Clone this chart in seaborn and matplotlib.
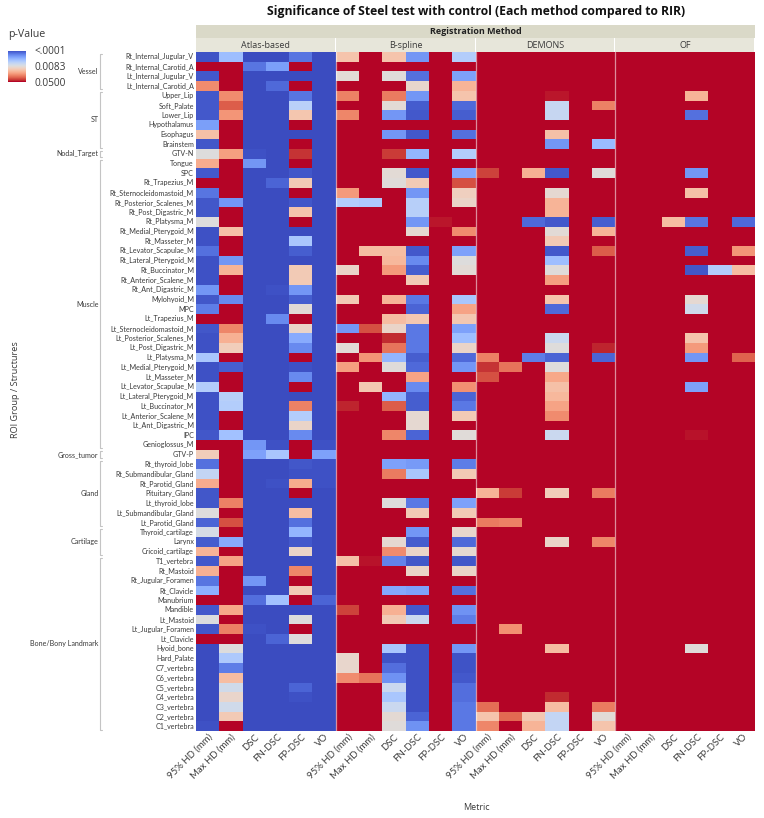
import numpy as np
import pandas as pd
import matplotlib
matplotlib.use("Agg")
import matplotlib.pyplot as plt
from matplotlib.colors import TwoSlopeNorm
from matplotlib.patches import Rectangle
from matplotlib.lines import Line2D
import seaborn as sns

structures = [
    "Rt_Internal_Jugular_V", "Rt_Internal_Carotid_A", "Lt_Internal_Jugular_V", "Lt_Internal_Carotid_A",
    "Upper_Lip", "Soft_Palate", "Lower_Lip", "Hypothalamus", "Esophagus", "Brainstem",
    "GTV-N",
    "Tongue", "SPC", "Rt_Trapezius_M", "Rt_Sternocleidomastoid_M", "Rt_Posterior_Scalenes_M",
    "Rt_Post_Digastric_M", "Rt_Platysma_M", "Rt_Medial_Pterygoid_M", "Rt_Masseter_M",
    "Rt_Levator_Scapulae_M", "Rt_Lateral_Pterygoid_M", "Rt_Buccinator_M", "Rt_Anterior_Scalene_M",
    "Rt_Ant_Digastric_M", "Mylohyoid_M", "MPC", "Lt_Trapezius_M", "Lt_Sternocleidomastoid_M",
    "Lt_Posterior_Scalenes_M", "Lt_Post_Digastric_M", "Lt_Platysma_M", "Lt_Medial_Pterygoid_M",
    "Lt_Masseter_M", "Lt_Levator_Scapulae_M", "Lt_Lateral_Pterygoid_M", "Lt_Buccinator_M",
    "Lt_Anterior_Scalene_M", "Lt_Ant_Digastric_M", "IPC", "Genioglossus_M",
    "GTV-P",
    "Rt_thyroid_lobe", "Rt_Submandibular_Gland", "Rt_Parotid_Gland", "Pituitary_Gland",
    "Lt_thyroid_lobe", "Lt_Submandibular_Gland", "Lt_Parotid_Gland",
    "Thyroid_cartilage", "Larynx", "Cricoid_cartilage",
    "T1_vertebra", "Rt_Mastoid", "Rt_Jugular_Foramen", "Rt_Clavicle", "Manubrium", "Mandible",
    "Lt_Mastoid", "Lt_Jugular_Foramen", "Lt_Clavicle", "Hyoid_bone", "Hard_Palate",
    "C7_vertebra", "C6_vertebra", "C5_vertebra", "C4_vertebra", "C3_vertebra", "C2_vertebra", "C1_vertebra",
]
group_names = ["Vessel", "ST", "Nodal_Target", "Muscle", "Gross_tumor", "Gland", "Cartilage", "Bone/Bony Landmark"]
group_sizes = [4, 6, 1, 30, 1, 7, 3, 18]
methods = ["Atlas-based", "B-spline", "DEMONS", "OF"]
metrics = ["95% HD (mm)", "Max HD (mm)", "DSC", "FN-DSC", "FP-DSC", "VO"]
legend_ticks = [0.0001, 0.0083, 0.05]
legend_labels = ["<.0001", "0.0083", "0.0500"]

# p-values in units of 0.0001, one row per structure, one column per metric
atlas_based = [
    [4, 50, 1, 1, 17, 1], [500, 500, 17, 34, 500, 1], [6, 500, 1, 1, 1, 1], [320, 500, 1, 12, 500, 1],
    [6, 320, 1, 1, 17, 1], [6, 400, 1, 1, 63, 1], [6, 300, 1, 1, 183, 1], [34, 500, 1, 1, 500, 1],
    [200, 500, 1, 1, 1, 1], [5, 500, 1, 1, 500, 1], [83, 280, 3, 1, 460, 1], [250, 500, 30, 1, 500, 1],
    [6, 500, 1, 1, 5, 1], [500, 500, 1, 10, 170, 1], [17, 500, 1, 1, 500, 1], [5, 30, 1, 1, 5, 1],
    [5, 500, 1, 1, 190, 1], [83, 500, 1, 1, 500, 1], [3, 200, 1, 1, 1, 1], [3, 500, 1, 1, 55, 1],
    [15, 500, 1, 1, 8, 1], [3, 30, 1, 1, 1, 1], [3, 230, 1, 1, 170, 1], [3, 500, 1, 1, 170, 1],
    [30, 500, 1, 3, 30, 1], [5, 25, 1, 1, 8, 1], [20, 500, 1, 1, 100, 1], [500, 500, 1, 25, 500, 1],
    [5, 330, 1, 1, 130, 1], [3, 240, 1, 1, 40, 1], [3, 160, 1, 1, 25, 1], [55, 500, 1, 1, 500, 1],
    [3, 8, 1, 1, 3, 1], [3, 500, 1, 1, 25, 1], [60, 500, 1, 1, 500, 1], [3, 62, 1, 1, 1, 1],
    [3, 60, 1, 1, 340, 1], [3, 500, 1, 1, 60, 1], [3, 500, 1, 1, 130, 1], [5, 52, 1, 1, 25, 1],
    [500, 500, 30, 3, 500, 3], [160, 500, 35, 55, 500, 35], [15, 500, 1, 1, 5, 3], [68, 500, 1, 1, 3, 3],
    [250, 500, 1, 3, 250, 3], [5, 500, 1, 1, 500, 1], [5, 340, 1, 1, 1, 1], [85, 500, 1, 1, 210, 1],
    [10, 420, 1, 1, 15, 1], [78, 500, 1, 1, 45, 1], [7, 40, 1, 1, 6, 1], [230, 500, 1, 1, 130, 1],
    [6, 270, 1, 1, 1, 1], [240, 500, 1, 1, 330, 1], [17, 500, 30, 1, 500, 1], [42, 500, 1, 1, 170, 1],
    [500, 500, 14, 52, 500, 10], [6, 260, 1, 1, 1, 1], [82, 500, 1, 1, 85, 1], [5, 340, 3, 1, 500, 1],
    [500, 500, 1, 10, 85, 1], [1, 85, 1, 1, 1, 1], [1, 58, 1, 1, 1, 1], [1, 20, 1, 1, 1, 1],
    [1, 210, 1, 1, 1, 1], [1, 75, 1, 1, 10, 1], [1, 125, 1, 1, 3, 1], [1, 75, 1, 1, 1, 1],
    [1, 170, 1, 1, 1, 1], [3, 500, 1, 1, 1, 1],
]
b_spline = [
    [190, 500, 190, 30, 500, 60], [500, 500, 500, 500, 500, 500], [100, 500, 90, 15, 500, 35],
    [500, 500, 500, 120, 500, 230], [340, 500, 350, 30, 500, 190], [500, 500, 100, 7, 500, 12],
    [330, 500, 30, 6, 500, 8], [500, 500, 500, 500, 500, 500], [500, 500, 30, 6, 500, 15],
    [500, 500, 500, 500, 500, 500], [500, 500, 450, 45, 500, 60], [500, 500, 500, 500, 500, 500],
    [500, 500, 100, 6, 500, 38], [500, 500, 90, 170, 500, 420], [290, 500, 500, 30, 500, 150],
    [60, 58, 500, 62, 500, 130], [500, 500, 500, 62, 500, 500], [500, 500, 500, 30, 485, 500],
    [500, 500, 500, 110, 500, 320], [500, 500, 500, 500, 500, 500], [500, 210, 210, 6, 500, 35],
    [500, 500, 220, 25, 500, 85], [130, 500, 290, 8, 500, 100], [500, 500, 500, 170, 500, 500],
    [500, 500, 500, 500, 500, 500], [170, 500, 230, 18, 500, 55], [500, 500, 500, 10, 500, 270],
    [500, 500, 210, 180, 500, 180], [30, 420, 130, 18, 500, 35], [500, 500, 470, 18, 500, 50],
    [100, 500, 360, 18, 500, 130], [500, 300, 45, 8, 500, 12], [280, 500, 90, 12, 500, 30],
    [500, 500, 500, 270, 500, 500], [500, 180, 500, 25, 500, 310], [500, 500, 45, 8, 500, 10],
    [475, 500, 400, 8, 500, 18], [500, 500, 500, 110, 500, 170], [500, 500, 500, 110, 500, 500],
    [500, 500, 330, 10, 500, 95], [500, 500, 500, 500, 500, 500], [500, 500, 500, 500, 500, 500],
    [500, 500, 35, 32, 500, 20], [500, 500, 350, 55, 500, 170], [500, 500, 500, 500, 500, 500],
    [500, 500, 500, 500, 500, 500], [500, 500, 85, 18, 500, 35], [500, 500, 500, 170, 500, 170],
    [500, 500, 500, 500, 500, 500], [500, 500, 500, 30, 500, 120], [500, 500, 110, 7, 500, 12],
    [500, 500, 320, 130, 500, 110], [200, 488, 22, 5, 500, 5], [500, 500, 500, 130, 500, 130],
    [500, 500, 500, 500, 500, 500], [500, 500, 38, 35, 500, 15], [500, 500, 500, 500, 500, 500],
    [440, 500, 240, 6, 500, 28], [500, 500, 170, 72, 500, 20], [500, 500, 500, 500, 500, 500],
    [500, 500, 500, 500, 500, 500], [500, 500, 55, 3, 500, 30], [120, 500, 4, 3, 500, 4],
    [120, 500, 14, 3, 500, 4], [320, 360, 28, 3, 500, 6], [500, 500, 72, 3, 500, 14],
    [500, 500, 55, 3, 500, 14], [500, 500, 72, 3, 500, 18], [500, 500, 105, 10, 500, 18],
    [500, 500, 90, 28, 500, 18],
]
demons = [
    [500, 500, 500, 500, 500, 500], [500, 500, 500, 500, 500, 500], [500, 500, 500, 500, 500, 500],
    [500, 500, 500, 500, 500, 500], [500, 500, 500, 485, 500, 500], [500, 500, 500, 70, 500, 340],
    [500, 500, 500, 70, 500, 500], [500, 500, 500, 500, 500, 500], [500, 500, 500, 200, 500, 500],
    [500, 500, 500, 30, 500, 48], [500, 500, 500, 500, 500, 500], [500, 500, 500, 500, 500, 500],
    [440, 500, 240, 6, 500, 90], [500, 500, 500, 500, 500, 500], [500, 500, 500, 110, 500, 500],
    [500, 500, 500, 230, 500, 500], [500, 500, 500, 230, 500, 500], [500, 500, 12, 6, 500, 8],
    [500, 500, 500, 100, 500, 230], [500, 500, 500, 170, 500, 500], [500, 500, 500, 6, 500, 400],
    [500, 500, 500, 50, 500, 500], [500, 500, 500, 90, 500, 500], [500, 500, 500, 280, 500, 500],
    [500, 500, 500, 500, 500, 500], [500, 500, 500, 190, 500, 500], [500, 500, 500, 12, 500, 500],
    [500, 500, 500, 500, 500, 500], [500, 500, 500, 500, 500, 500], [500, 500, 500, 72, 500, 500],
    [500, 500, 500, 88, 500, 475], [340, 500, 20, 10, 500, 10], [460, 360, 500, 85, 500, 500],
    [420, 500, 500, 260, 500, 500], [500, 500, 500, 200, 500, 500], [500, 500, 500, 220, 500, 500],
    [500, 500, 500, 270, 500, 500], [500, 500, 500, 320, 500, 500], [500, 500, 500, 500, 500, 500],
    [500, 500, 500, 72, 500, 500], [500, 500, 500, 500, 500, 500], [500, 500, 500, 500, 500, 500],
    [500, 500, 500, 500, 500, 500], [500, 500, 500, 500, 500, 500], [500, 500, 500, 500, 500, 500],
    [230, 450, 500, 160, 500, 350], [500, 500, 500, 500, 500, 500], [500, 500, 500, 500, 500, 500],
    [350, 340, 500, 500, 500, 500], [500, 500, 500, 500, 500, 500], [500, 500, 500, 130, 500, 330],
    [500, 500, 500, 500, 500, 500], [500, 500, 500, 500, 500, 500], [500, 500, 500, 500, 500, 500],
    [500, 500, 500, 500, 500, 500], [500, 500, 500, 500, 500, 500], [500, 500, 500, 500, 500, 500],
    [500, 500, 500, 500, 500, 500], [500, 500, 500, 500, 500, 500], [500, 310, 500, 500, 500, 500],
    [500, 500, 500, 500, 500, 500], [500, 500, 500, 210, 500, 500], [500, 500, 500, 500, 500, 500],
    [500, 500, 500, 500, 500, 500], [500, 500, 500, 500, 500, 500], [500, 500, 500, 500, 500, 500],
    [500, 500, 500, 470, 500, 500], [370, 500, 500, 210, 500, 350], [190, 380, 180, 68, 500, 100],
    [330, 500, 230, 68, 500, 190],
]
of = [
    [500, 500, 500, 500, 500, 500], [500, 500, 500, 500, 500, 500], [500, 500, 500, 500, 500, 500],
    [500, 500, 500, 500, 500, 500], [500, 500, 500, 230, 500, 500], [500, 500, 500, 500, 500, 500],
    [500, 500, 500, 15, 500, 500], [500, 500, 500, 500, 500, 500], [500, 500, 500, 500, 500, 500],
    [500, 500, 500, 500, 500, 500], [500, 500, 500, 500, 500, 500], [500, 500, 500, 500, 500, 500],
    [500, 500, 500, 30, 500, 500], [500, 500, 500, 500, 500, 500], [500, 500, 500, 200, 500, 500],
    [500, 500, 500, 500, 500, 500], [500, 500, 500, 500, 500, 500], [500, 500, 210, 17, 500, 12],
    [500, 500, 500, 500, 500, 500], [500, 500, 500, 500, 500, 500], [500, 500, 500, 8, 500, 300],
    [500, 500, 500, 500, 500, 500], [500, 500, 500, 5, 60, 210], [500, 500, 500, 500, 500, 500],
    [500, 500, 500, 500, 500, 500], [500, 500, 500, 110, 500, 500], [500, 500, 500, 75, 500, 500],
    [500, 500, 500, 500, 500, 500], [500, 500, 500, 500, 500, 500], [500, 500, 500, 190, 500, 500],
    [500, 500, 500, 290, 500, 500], [500, 500, 500, 30, 500, 390], [500, 500, 500, 500, 500, 500],
    [500, 500, 500, 500, 500, 500], [500, 500, 500, 35, 500, 500], [500, 500, 500, 500, 500, 500],
    [500, 500, 500, 500, 500, 500], [500, 500, 500, 500, 500, 500], [500, 500, 500, 500, 500, 500],
    [500, 500, 500, 488, 500, 500], [500, 500, 500, 500, 500, 500], [500, 500, 500, 500, 500, 500],
    [500, 500, 500, 500, 500, 500], [500, 500, 500, 500, 500, 500], [500, 500, 500, 500, 500, 500],
    [500, 500, 500, 500, 500, 500], [500, 500, 500, 500, 500, 500], [500, 500, 500, 500, 500, 500],
    [500, 500, 500, 500, 500, 500], [500, 500, 500, 500, 500, 500], [500, 500, 500, 500, 500, 500],
    [500, 500, 500, 500, 500, 500], [500, 500, 500, 500, 500, 500], [500, 500, 500, 500, 500, 500],
    [500, 500, 500, 500, 500, 500], [500, 500, 500, 500, 500, 500], [500, 500, 500, 500, 500, 500],
    [500, 500, 500, 500, 500, 500], [500, 500, 500, 500, 500, 500], [500, 500, 500, 500, 500, 500],
    [500, 500, 500, 500, 500, 500], [500, 500, 500, 90, 500, 500], [500, 500, 500, 500, 500, 500],
    [500, 500, 500, 500, 500, 500], [500, 500, 500, 500, 500, 500], [500, 500, 500, 500, 500, 500],
    [500, 500, 500, 500, 500, 500], [500, 500, 500, 500, 500, 500], [500, 500, 500, 500, 500, 500],
    [500, 500, 500, 500, 500, 500],
]

W, H = 764, 818
sns.set_theme(style="white")
plt.rcParams["font.family"] = ["Open Sans", "DejaVu Sans"]
TXT = "#3A3A3A"
SMALL = "Lato"


def fx(px):
    return px / W


def fy(py):
    return 1 - py / H


def px_axes(x0, y0, x1, y1):
    return [fx(x0), fy(y1), fx(x1 - x0), (y1 - y0) / H]


p_values = np.hstack([np.array(t) for t in (atlas_based, b_spline, demons, of)]) * 1e-4
frame = pd.DataFrame(p_values, index=structures, columns=metrics * len(methods))

fig = plt.figure(figsize=(W / 100, H / 100), dpi=100, facecolor="white")
ax = fig.add_axes(px_axes(196, 52, 755, 731))
cax = fig.add_axes(px_axes(8, 50.5, 26, 81.5))

norm = TwoSlopeNorm(vmin=legend_ticks[0], vcenter=legend_ticks[1], vmax=legend_ticks[2])
sns.heatmap(frame, ax=ax, cmap="coolwarm", norm=norm, cbar_ax=cax,
            cbar_kws={"ticks": legend_ticks}, xticklabels=True, yticklabels=True)

ax.tick_params(axis="both", length=0)
ax.tick_params(axis="y", pad=1.5)
ax.tick_params(axis="x", pad=1)
ax.set_xlabel("")
ax.set_ylabel("")
for lab in ax.get_yticklabels():
    lab.set(fontsize=5.15, color=TXT, rotation=0, va="center", family=SMALL)
for lab in ax.get_xticklabels():
    lab.set(fontsize=6.9, color=TXT, rotation=45, ha="right", va="top", rotation_mode="anchor", family=SMALL)

n_metrics = len(metrics)
for k in range(1, len(methods)):
    ax.axvline(k * n_metrics, color="white", lw=0.9, alpha=0.55)

# Colour legend
cax.invert_yaxis()
cax.set_yticks(legend_ticks)
cax.set_yticklabels(legend_labels, fontsize=7.3, color=TXT)
cax.tick_params(axis="y", length=0, pad=6)
cax.minorticks_off()
for s in cax.spines.values():
    s.set_visible(False)
fig.text(fx(8), fy(35), "p-Value", fontsize=7.7, color=TXT, va="center", ha="left")

# Header bands
fig.add_artist(Rectangle((fx(196), fy(38)), fx(559), 13 / H, transform=fig.transFigure,
                         facecolor="#DAD9C8", edgecolor="none"))
for k, method in enumerate(methods):
    x0 = 196 + k * 559 / len(methods)
    x1 = x0 + 559 / len(methods)
    fig.add_artist(Rectangle((fx(x0), fy(52)), fx(x1 - x0 - 1), 14 / H, transform=fig.transFigure,
                             facecolor="#E7E6DA", edgecolor="none"))
    fig.text(fx((x0 + x1) / 2), fy(45), method, fontsize=6.5, color=TXT, ha="center", va="center")
fig.text(fx(476), fy(31), "Registration Method", fontsize=6.5, fontweight="bold", color="#222222",
         ha="center", va="center")
fig.text(fx(476), fy(11), "Significance of Steel test with control (Each method compared to RIR)",
         fontsize=8.7, fontweight="bold", color="#111111", ha="center", va="center")

# Group brackets
row_h = 679 / len(structures)
BR = "#C4C4C4"
start = 0
for name, size in zip(group_names, group_sizes):
    top = 52 + start * row_h + 1.5
    bot = 52 + (start + size) * row_h - 1.5
    fig.add_artist(Line2D([fx(102), fx(100), fx(100), fx(102)], [fy(top), fy(top), fy(bot), fy(bot)],
                          color=BR, lw=0.8))
    fig.text(fx(98.5), fy((top + bot) / 2), name, fontsize=5.15, color=TXT, ha="right", va="center",
             family=SMALL)
    start += size

fig.text(fx(16), fy(390), "ROI Group / Structures", fontsize=6.6, color=TXT, rotation=90,
         ha="center", va="center")
fig.text(fx(476), fy(807), "Metric", fontsize=6.5, color=TXT, ha="center", va="center")

fig.savefig("out.png", dpi=100)
